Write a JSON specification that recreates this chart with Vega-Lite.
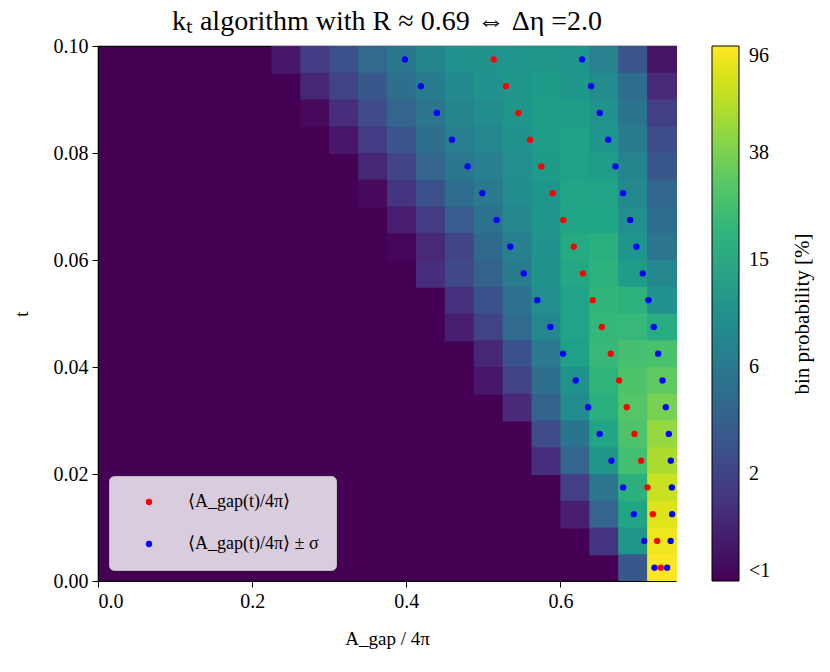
{
  "$schema": "https://vega.github.io/schema/vega-lite/v6.json",
  "width": 578,
  "height": 535,
  "autosize": {"type": "none"},
  "padding": {"left": 98, "top": 46, "right": 154, "bottom": 91},
  "background": "white",
  "title": {
    "text": "kₜ algorithm with R ≈ 0.69 ⇔ Δη =2.0",
    "font": "Liberation Serif",
    "fontSize": 28,
    "fontWeight": "normal",
    "color": "black",
    "offset": 0
  },
  "config": {
    "font": "Liberation Serif",
    "view": {"fill": "#440154", "stroke": "black", "strokeWidth": 1.2},
    "axis": {
      "grid": false,
      "domainColor": "black",
      "tickColor": "black",
      "tickSize": 6,
      "labelColor": "black",
      "labelFont": "Liberation Serif",
      "labelFontSize": 20,
      "titleColor": "black",
      "titleFont": "Liberation Serif",
      "titleFontSize": 19,
      "titleFontWeight": "normal"
    }
  },
  "datasets": {
    "cells": [
      {"x": 0.225, "t": 0.095, "p": 1.3}, {"x": 0.2625, "t": 0.095, "p": 2.2}, {"x": 0.3, "t": 0.095, "p": 3.1}, {"x": 0.3375, "t": 0.095, "p": 4.8}, {"x": 0.375, "t": 0.095, "p": 6.2}, {"x": 0.4125, "t": 0.095, "p": 7.8}, {"x": 0.45, "t": 0.095, "p": 9.8}, {"x": 0.4875, "t": 0.095, "p": 10.5}, {"x": 0.525, "t": 0.095, "p": 11}, {"x": 0.5625, "t": 0.095, "p": 11.5}, {"x": 0.6, "t": 0.095, "p": 11}, {"x": 0.6375, "t": 0.095, "p": 7.2}, {"x": 0.675, "t": 0.095, "p": 3.4}, {"x": 0.7125, "t": 0.095, "p": 1.25},
      {"x": 0.2625, "t": 0.09, "p": 1.6}, {"x": 0.3, "t": 0.09, "p": 2.4}, {"x": 0.3375, "t": 0.09, "p": 3.5}, {"x": 0.375, "t": 0.09, "p": 5.3}, {"x": 0.4125, "t": 0.09, "p": 6.5}, {"x": 0.45, "t": 0.09, "p": 8.5}, {"x": 0.4875, "t": 0.09, "p": 10}, {"x": 0.525, "t": 0.09, "p": 11.5}, {"x": 0.5625, "t": 0.09, "p": 12}, {"x": 0.6, "t": 0.09, "p": 11.5}, {"x": 0.6375, "t": 0.09, "p": 9}, {"x": 0.675, "t": 0.09, "p": 5}, {"x": 0.7125, "t": 0.09, "p": 1.7},
      {"x": 0.2625, "t": 0.085, "p": 1.1}, {"x": 0.3, "t": 0.085, "p": 1.8}, {"x": 0.3375, "t": 0.085, "p": 2.8}, {"x": 0.375, "t": 0.085, "p": 4.3}, {"x": 0.4125, "t": 0.085, "p": 6}, {"x": 0.45, "t": 0.085, "p": 7.8}, {"x": 0.4875, "t": 0.085, "p": 9}, {"x": 0.525, "t": 0.085, "p": 11}, {"x": 0.5625, "t": 0.085, "p": 12.5}, {"x": 0.6, "t": 0.085, "p": 12.5}, {"x": 0.6375, "t": 0.085, "p": 10}, {"x": 0.675, "t": 0.085, "p": 5.8}, {"x": 0.7125, "t": 0.085, "p": 2.3},
      {"x": 0.3, "t": 0.08, "p": 1.3}, {"x": 0.3375, "t": 0.08, "p": 2.2}, {"x": 0.375, "t": 0.08, "p": 3.3}, {"x": 0.4125, "t": 0.08, "p": 5.2}, {"x": 0.45, "t": 0.08, "p": 7}, {"x": 0.4875, "t": 0.08, "p": 8}, {"x": 0.525, "t": 0.08, "p": 10}, {"x": 0.5625, "t": 0.08, "p": 12.5}, {"x": 0.6, "t": 0.08, "p": 13.5}, {"x": 0.6375, "t": 0.08, "p": 11}, {"x": 0.675, "t": 0.08, "p": 6.5}, {"x": 0.7125, "t": 0.08, "p": 2.9},
      {"x": 0.3375, "t": 0.075, "p": 1.6}, {"x": 0.375, "t": 0.075, "p": 2.5}, {"x": 0.4125, "t": 0.075, "p": 4.3}, {"x": 0.45, "t": 0.075, "p": 6.2}, {"x": 0.4875, "t": 0.075, "p": 7}, {"x": 0.525, "t": 0.075, "p": 9.3}, {"x": 0.5625, "t": 0.075, "p": 12}, {"x": 0.6, "t": 0.075, "p": 13.5}, {"x": 0.6375, "t": 0.075, "p": 12.5}, {"x": 0.675, "t": 0.075, "p": 7.8}, {"x": 0.7125, "t": 0.075, "p": 3.5},
      {"x": 0.3375, "t": 0.07, "p": 1.1}, {"x": 0.375, "t": 0.07, "p": 2}, {"x": 0.4125, "t": 0.07, "p": 3.1}, {"x": 0.45, "t": 0.07, "p": 5}, {"x": 0.4875, "t": 0.07, "p": 6.3}, {"x": 0.525, "t": 0.07, "p": 9}, {"x": 0.5625, "t": 0.07, "p": 11}, {"x": 0.6, "t": 0.07, "p": 14.5}, {"x": 0.6375, "t": 0.07, "p": 14}, {"x": 0.675, "t": 0.07, "p": 8.5}, {"x": 0.7125, "t": 0.07, "p": 4.5},
      {"x": 0.375, "t": 0.065, "p": 1.4}, {"x": 0.4125, "t": 0.065, "p": 2.2}, {"x": 0.45, "t": 0.065, "p": 3.7}, {"x": 0.4875, "t": 0.065, "p": 5.5}, {"x": 0.525, "t": 0.065, "p": 8.2}, {"x": 0.5625, "t": 0.065, "p": 11}, {"x": 0.6, "t": 0.065, "p": 15}, {"x": 0.6375, "t": 0.065, "p": 15}, {"x": 0.675, "t": 0.065, "p": 9.3}, {"x": 0.7125, "t": 0.065, "p": 5},
      {"x": 0.375, "t": 0.06, "p": 1.05}, {"x": 0.4125, "t": 0.06, "p": 1.65}, {"x": 0.45, "t": 0.06, "p": 2.5}, {"x": 0.4875, "t": 0.06, "p": 4.7}, {"x": 0.525, "t": 0.06, "p": 7}, {"x": 0.5625, "t": 0.06, "p": 10}, {"x": 0.6, "t": 0.06, "p": 16.5}, {"x": 0.6375, "t": 0.06, "p": 18}, {"x": 0.675, "t": 0.06, "p": 11}, {"x": 0.7125, "t": 0.06, "p": 6},
      {"x": 0.4125, "t": 0.055, "p": 1.8}, {"x": 0.45, "t": 0.055, "p": 2.7}, {"x": 0.4875, "t": 0.055, "p": 4}, {"x": 0.525, "t": 0.055, "p": 6.5}, {"x": 0.5625, "t": 0.055, "p": 10.5}, {"x": 0.6, "t": 0.055, "p": 15.5}, {"x": 0.6375, "t": 0.055, "p": 19}, {"x": 0.675, "t": 0.055, "p": 12.5}, {"x": 0.7125, "t": 0.055, "p": 8},
      {"x": 0.45, "t": 0.05, "p": 1.9}, {"x": 0.4875, "t": 0.05, "p": 3.1}, {"x": 0.525, "t": 0.05, "p": 5.5}, {"x": 0.5625, "t": 0.05, "p": 9.3}, {"x": 0.6, "t": 0.05, "p": 14}, {"x": 0.6375, "t": 0.05, "p": 20}, {"x": 0.675, "t": 0.05, "p": 19}, {"x": 0.7125, "t": 0.05, "p": 10},
      {"x": 0.45, "t": 0.045, "p": 1.45}, {"x": 0.4875, "t": 0.045, "p": 2.4}, {"x": 0.525, "t": 0.045, "p": 4.8}, {"x": 0.5625, "t": 0.045, "p": 8}, {"x": 0.6, "t": 0.045, "p": 14}, {"x": 0.6375, "t": 0.045, "p": 21}, {"x": 0.675, "t": 0.045, "p": 21.5}, {"x": 0.7125, "t": 0.045, "p": 17},
      {"x": 0.4875, "t": 0.04, "p": 1.6}, {"x": 0.525, "t": 0.04, "p": 3.1}, {"x": 0.5625, "t": 0.04, "p": 6.3}, {"x": 0.6, "t": 0.04, "p": 13.5}, {"x": 0.6375, "t": 0.04, "p": 21.5}, {"x": 0.675, "t": 0.04, "p": 25}, {"x": 0.7125, "t": 0.04, "p": 26},
      {"x": 0.4875, "t": 0.035, "p": 1.3}, {"x": 0.525, "t": 0.035, "p": 2.4}, {"x": 0.5625, "t": 0.035, "p": 5.2}, {"x": 0.6, "t": 0.035, "p": 10.5}, {"x": 0.6375, "t": 0.035, "p": 19.5}, {"x": 0.675, "t": 0.035, "p": 27}, {"x": 0.7125, "t": 0.035, "p": 31},
      {"x": 0.525, "t": 0.03, "p": 1.7}, {"x": 0.5625, "t": 0.03, "p": 4}, {"x": 0.6, "t": 0.03, "p": 8.8}, {"x": 0.6375, "t": 0.03, "p": 18}, {"x": 0.675, "t": 0.03, "p": 28.5}, {"x": 0.7125, "t": 0.03, "p": 38},
      {"x": 0.5625, "t": 0.025, "p": 2.8}, {"x": 0.6, "t": 0.025, "p": 5.8}, {"x": 0.6375, "t": 0.025, "p": 15}, {"x": 0.675, "t": 0.025, "p": 27}, {"x": 0.7125, "t": 0.025, "p": 47},
      {"x": 0.5625, "t": 0.02, "p": 1.8}, {"x": 0.6, "t": 0.02, "p": 4.3}, {"x": 0.6375, "t": 0.02, "p": 11.5}, {"x": 0.675, "t": 0.02, "p": 24.4}, {"x": 0.7125, "t": 0.02, "p": 55},
      {"x": 0.6, "t": 0.015, "p": 2.3}, {"x": 0.6375, "t": 0.015, "p": 6}, {"x": 0.675, "t": 0.015, "p": 18.5}, {"x": 0.7125, "t": 0.015, "p": 66},
      {"x": 0.6, "t": 0.01, "p": 1.45}, {"x": 0.6375, "t": 0.01, "p": 4.3}, {"x": 0.675, "t": 0.01, "p": 15}, {"x": 0.7125, "t": 0.01, "p": 77},
      {"x": 0.6375, "t": 0.005, "p": 2}, {"x": 0.675, "t": 0.005, "p": 11.5}, {"x": 0.7125, "t": 0.005, "p": 87},
      {"x": 0.675, "t": 0, "p": 3.5}, {"x": 0.7125, "t": 0, "p": 96}
    ],
    "points": [
      {"x": 0.5134, "t": 0.0975, "s": "m"}, {"x": 0.5294, "t": 0.0925, "s": "m"}, {"x": 0.5455, "t": 0.0875, "s": "m"}, {"x": 0.5606, "t": 0.0825, "s": "m"}, {"x": 0.5753, "t": 0.0775, "s": "m"},
      {"x": 0.590, "t": 0.0725, "s": "m"}, {"x": 0.6039, "t": 0.0675, "s": "m"}, {"x": 0.6173, "t": 0.0625, "s": "m"}, {"x": 0.6294, "t": 0.0575, "s": "m"}, {"x": 0.642, "t": 0.0525, "s": "m"},
      {"x": 0.6537, "t": 0.0475, "s": "m"}, {"x": 0.6654, "t": 0.0425, "s": "m"}, {"x": 0.6762, "t": 0.0375, "s": "m"}, {"x": 0.6861, "t": 0.0325, "s": "m"}, {"x": 0.6961, "t": 0.0275, "s": "m"},
      {"x": 0.7048, "t": 0.0225, "s": "m"}, {"x": 0.713, "t": 0.0175, "s": "m"}, {"x": 0.7199, "t": 0.0125, "s": "m"}, {"x": 0.7255, "t": 0.0075, "s": "m"}, {"x": 0.7303, "t": 0.0025, "s": "m"},
      {"x": 0.3983, "t": 0.0975, "s": "pm"}, {"x": 0.4190, "t": 0.0925, "s": "pm"}, {"x": 0.4398, "t": 0.0875, "s": "pm"}, {"x": 0.4593, "t": 0.0825, "s": "pm"}, {"x": 0.4796, "t": 0.0775, "s": "pm"},
      {"x": 0.4987, "t": 0.0725, "s": "pm"}, {"x": 0.5173, "t": 0.0675, "s": "pm"}, {"x": 0.535, "t": 0.0625, "s": "pm"}, {"x": 0.5524, "t": 0.0575, "s": "pm"}, {"x": 0.570, "t": 0.0525, "s": "pm"},
      {"x": 0.587, "t": 0.0475, "s": "pm"}, {"x": 0.6035, "t": 0.0425, "s": "pm"}, {"x": 0.6199, "t": 0.0375, "s": "pm"}, {"x": 0.636, "t": 0.0325, "s": "pm"}, {"x": 0.651, "t": 0.0275, "s": "pm"},
      {"x": 0.6662, "t": 0.0225, "s": "pm"}, {"x": 0.6814, "t": 0.0175, "s": "pm"}, {"x": 0.6952, "t": 0.0125, "s": "pm"}, {"x": 0.7087, "t": 0.0075, "s": "pm"}, {"x": 0.7221, "t": 0.0025, "s": "pm"},
      {"x": 0.6281, "t": 0.0975, "s": "pm"}, {"x": 0.6398, "t": 0.0925, "s": "pm"}, {"x": 0.6511, "t": 0.0875, "s": "pm"}, {"x": 0.662, "t": 0.0825, "s": "pm"}, {"x": 0.6714, "t": 0.0775, "s": "pm"},
      {"x": 0.6814, "t": 0.0725, "s": "pm"}, {"x": 0.6905, "t": 0.0675, "s": "pm"}, {"x": 0.6987, "t": 0.0625, "s": "pm"}, {"x": 0.7069, "t": 0.0575, "s": "pm"}, {"x": 0.7143, "t": 0.0525, "s": "pm"},
      {"x": 0.7212, "t": 0.0475, "s": "pm"}, {"x": 0.7268, "t": 0.0425, "s": "pm"}, {"x": 0.7325, "t": 0.0375, "s": "pm"}, {"x": 0.7368, "t": 0.0325, "s": "pm"}, {"x": 0.7407, "t": 0.0275, "s": "pm"},
      {"x": 0.7433, "t": 0.0225, "s": "pm"}, {"x": 0.7446, "t": 0.0175, "s": "pm"}, {"x": 0.745, "t": 0.0125, "s": "pm"}, {"x": 0.7431, "t": 0.0075, "s": "pm"}, {"x": 0.7385, "t": 0.0025, "s": "pm"}
    ]
  },
  "layer": [
    {
      "data": {"name": "cells"},
      "mark": {"type": "rect", "binSpacing": 0, "xOffset": 0.5, "x2Offset": -0.5, "yOffset": -0.5, "y2Offset": 0.5},
      "encoding": {
        "x": {
          "field": "x",
          "type": "quantitative",
          "bin": {"binned": true, "step": 0.0375},
          "scale": {"domain": [0, 0.75], "nice": false, "zero": false},
          "axis": {"values": [0, 0.2, 0.4, 0.6], "format": ".1f", "title": "A_gap / 4π", "titlePadding": 18, "labelPadding": 4}
        },
        "y": {
          "field": "t",
          "type": "quantitative",
          "bin": {"binned": true, "step": 0.005},
          "scale": {"domain": [0, 0.1], "nice": false, "zero": false},
          "axis": {"values": [0, 0.02, 0.04, 0.06, 0.08, 0.1], "format": ".2f", "title": "t", "titlePadding": 22, "labelPadding": 4}
        },
        "color": {
          "field": "p",
          "type": "quantitative",
          "scale": {"type": "log", "domain": [1, 96], "scheme": "viridis", "clamp": true},
          "legend": {
            "type": "gradient",
            "orient": "none",
            "legendX": 614,
            "legendY": 0,
            "direction": "vertical",
            "gradientLength": 535,
            "gradientThickness": 27,
            "gradientStrokeColor": "black",
            "gradientStrokeWidth": 1,
            "values": [1, 2.49, 6.2, 15.5, 38.5, 96],
            "labelExpr": "datum.value <= 1 ? '<1' : format(floor(datum.value), 'd')",
            "labelFont": "Liberation Serif",
            "labelFontSize": 20,
            "labelColor": "black",
            "labelOffset": 10,
            "title": "bin probability [%]",
            "titleOrient": "right",
            "titleAnchor": "middle",
            "titleFont": "Liberation Serif",
            "titleFontSize": 21,
            "titleFontWeight": "normal",
            "titleColor": "black",
            "titlePadding": 43,
            "encode": {
              "title": {"update": {"angle": {"value": -90}, "baseline": {"value": "bottom"}}}
            }
          }
        }
      }
    },
    {
      "data": {"name": "points"},
      "mark": {"type": "circle", "size": 40, "opacity": 1},
      "encoding": {
        "x": {"field": "x", "type": "quantitative"},
        "y": {"field": "t", "type": "quantitative"},
        "fill": {
          "field": "s",
          "type": "nominal",
          "scale": {"domain": ["m", "pm"], "range": ["red", "blue"]},
          "legend": {
            "orient": "bottom-left",
            "offset": 11,
            "title": null,
            "fillColor": "rgba(255,255,255,0.8)",
            "strokeColor": "#bbb",
            "cornerRadius": 5,
            "padding": 17,
            "symbolType": "circle",
            "symbolSize": 40,
            "symbolStrokeWidth": 0,
            "symbolOffset": 14,
            "labelOffset": 30,
            "rowPadding": 24,
            "labelFont": "Liberation Serif",
            "labelFontSize": 18,
            "labelColor": "black",
            "labelLimit": 300,
            "labelExpr": "datum.value == 'm' ? '⟨A_gap(t)/4π⟩' : '⟨A_gap(t)/4π⟩ ± σ'"
          }
        }
      }
    }
  ]
}
